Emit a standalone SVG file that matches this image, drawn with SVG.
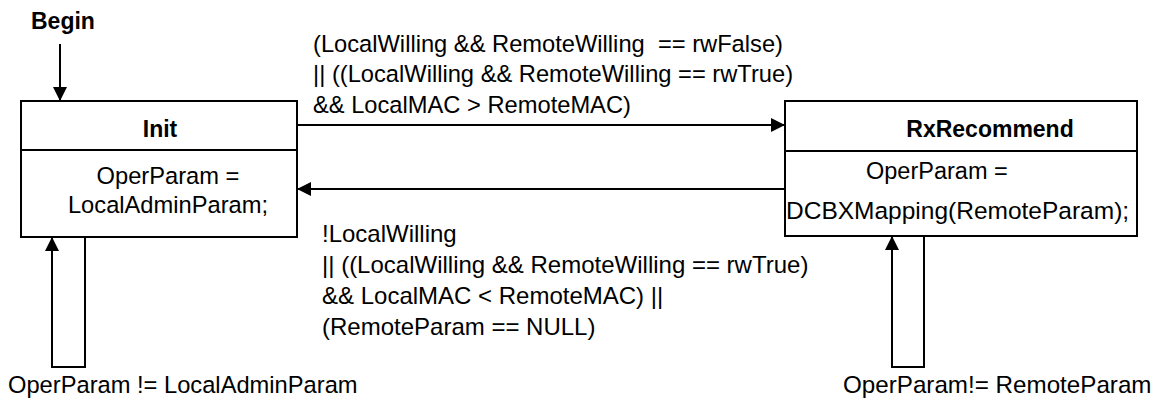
<svg xmlns="http://www.w3.org/2000/svg" width="1159" height="402" viewBox="0 0 1159 402">
<style>
text{font-family:"Liberation Sans",Arial,sans-serif;font-size:23.7px;fill:#000}
.b{font-weight:bold;font-size:23px}
.l{font-size:24px}
.box{fill:#fff;stroke:#000;stroke-width:2}
.ln{fill:none;stroke:#000;stroke-width:2}
</style>
<defs>
<marker id="ah" viewBox="0 0 14 14" refX="14" refY="7" markerWidth="14" markerHeight="14" markerUnits="userSpaceOnUse" orient="auto">
<path d="M0,0 L14,7 L0,14 Z" fill="#000"/>
</marker>
</defs>
<rect width="1159" height="402" fill="#fff"/>
<g id="begin">
<text class="b" x="31" y="29">Begin</text>
</g>
<g id="init">
<rect class="box" x="21" y="101" width="276" height="136"/>
<line class="ln" x1="21" y1="150" x2="297" y2="150"/>
<text class="b" x="160" y="137" text-anchor="middle">Init</text>
<text x="168" y="184" text-anchor="middle">OperParam =</text>
<text x="168" y="213" text-anchor="middle">LocalAdminParam;</text>
</g>
<g id="rxrecommend">
<rect class="box" x="785" y="101" width="352" height="135"/>
<line class="ln" x1="785" y1="151" x2="1137" y2="151"/>
<text class="b" x="990" y="137" text-anchor="middle">RxRecommend</text>
<text x="866" y="179" style="font-size:23.5px">OperParam =</text>
<text x="786" y="219" style="font-size:24.5px">DCBXMapping(RemoteParam);</text>
</g>
<g id="connectors">
<path class="ln" d="M60,44 V101" marker-end="url(#ah)"/>
<path class="ln" d="M297,125 H785" marker-end="url(#ah)"/>
<path class="ln" d="M785,189 H297" marker-end="url(#ah)"/>
<path class="ln" d="M85,237 V367 H52 V237" marker-end="url(#ah)"/>
<path class="ln" d="M924,236 V367 H892 V236" marker-end="url(#ah)"/>
</g>
<g id="labels">
<text x="313" y="51.5">(LocalWilling &amp;&amp; RemoteWilling&#160; == rwFalse)</text>
<text x="313" y="82.3">|| ((LocalWilling &amp;&amp; RemoteWilling == rwTrue)</text>
<text x="313" y="113">&amp;&amp; LocalMAC &gt; RemoteMAC)</text>
<text class="l" x="322" y="242">!LocalWilling</text>
<text class="l" x="322" y="273">|| ((LocalWilling &amp;&amp; RemoteWilling == rwTrue)</text>
<text class="l" x="322" y="304">&amp;&amp; LocalMAC &lt; RemoteMAC) ||</text>
<text class="l" x="322" y="335">(RemoteParam == NULL)</text>
<text x="8" y="393">OperParam != LocalAdminParam</text>
<text x="843" y="393" style="font-size:24.2px">OperParam!= RemoteParam</text>
</g>
</svg>
